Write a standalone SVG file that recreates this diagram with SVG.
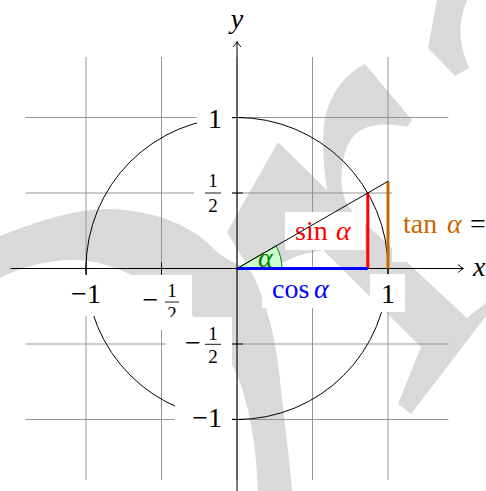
<svg xmlns="http://www.w3.org/2000/svg" width="486" height="491" viewBox="0 0 486 491">
<style>
.wm{fill:#d9d9d9}
.grid{stroke:#8a8a8a;stroke-width:0.9;fill:none}
.ax{stroke:#000;stroke-width:1;fill:none}
.box{fill:#fff}
.t{font-family:"Liberation Serif","DejaVu Serif",serif;font-size:28px}
.f{font-family:"Liberation Serif","DejaVu Serif",serif;font-size:19px;text-anchor:middle}
.it{font-style:italic}
.bar{stroke:#000;stroke-width:0.9}
</style>
<rect width="486" height="491" fill="#fff"/>
<g id="watermark">
<path class="wm" d="M0,236 C40,220 80,208 110,209 C160,211 195,228 215,250 C228,262 245,266 252,273 C265,300 275,330 280,380 C284,420 290,460 292,491 L258,491 C256,440 248,400 235,370 C215,335 190,310 160,290 C130,272 105,262 80,260 C50,259 20,267 0,278 Z"/>
<path class="wm" d="M278,142 L327,190 C324,170 322,145 324,125 C327,100 342,75 365,64 L412,120 L407,127 C395,124 372,122 358,132 C345,142 340,165 342,188 C344,205 355,215 370,228 L467,318 L486,303 L486,316 L411,414 L398,404 L421,347 L323,250 L300,255 L270,268 L245,262 L227,232 Z"/>
<path class="wm" d="M437,0 L428,48 L455,76 L469,68 C462,50 455,30 467,0 Z"/>
</g>
<g id="grid">
<path class="grid" d="M86,57V480 M161.5,57V480 M237,57V480 M312.5,57V480 M388,57V480 M25.6,117.5H448.4 M25.6,193H448.4 M25.6,268.5H448.4 M25.6,344H448.4 M25.6,419.5H448.4"/>
</g>
<g id="unit-circle">
<circle cx="237" cy="268.5" r="151" fill="none" stroke="#000" stroke-width="1"/>
</g>
<g id="angle-wedge">
<path d="M237,268.5 L282,268.5 A45,45 0 0 0 276,246 Z" fill="#ccffcc" stroke="#008000" stroke-width="1"/>
</g>
<g id="axes">
<path class="ax" d="M10.5,268.5 H463 M237,495 V42"/>
<path class="ax" d="M458,264.5 Q461,267.5 463.5,268.5 Q461,269.5 458,272.5 M233,47 Q236,44 237,41.5 Q238,44 241,47"/>
<path class="ax" d="M86,262.5V274.5 M161.5,262.5V274.5 M388,262.5V274.5 M231,117.5H243 M231,193H243 M231,344H243 M231,419.5H243"/>
<text class="t it" x="237" y="28" text-anchor="middle">y</text>
<text class="t it" x="473" y="276">x</text>
</g>
<g id="xtick-m1">
<rect class="box" x="58" y="275" width="56" height="41"/>
<text class="t" x="86" y="303" text-anchor="middle">−1</text>
</g>
<g id="xtick-mhalf">
<rect class="box" x="132" y="275" width="60" height="55"/>
<text class="t" x="150.5" y="309" text-anchor="middle">−</text>
<text class="f" x="172" y="297">1</text>
<line class="bar" x1="165" y1="302" x2="179" y2="302"/>
<text class="f" x="172" y="320">2</text>
</g>
<g id="xtick-1">
<rect class="box" x="370" y="274" width="35" height="38"/>
<text class="t" x="388" y="303" text-anchor="middle">1</text>
</g>
<g id="ytick-mhalf">
<rect class="box" x="166" y="317" width="66" height="55"/>
<text class="t" x="193" y="352" text-anchor="middle">−</text>
<text class="f" x="213" y="340">1</text>
<line class="bar" x1="205" y1="344.3" x2="221" y2="344.3"/>
<text class="f" x="213" y="363">2</text>
</g>
<g id="ytick-m1">
<rect class="box" x="175" y="398" width="57" height="42"/>
<text class="t" x="222" y="427" text-anchor="end">−1</text>
</g>
<g id="ytick-half">
<rect class="box" x="194" y="170" width="38" height="48"/>
<text class="f" x="213" y="187">1</text>
<line class="bar" x1="205" y1="193" x2="221" y2="193"/>
<text class="f" x="213" y="212">2</text>
</g>
<g id="ytick-1">
<rect class="box" x="197" y="100" width="35" height="35"/>
<text class="t" x="222" y="128" text-anchor="end">1</text>
</g>
<g id="connectors">
<path d="M367.8,193 V268.5" stroke="#ff0000" stroke-width="3"/>
<path d="M237,268.5 H367.8" stroke="#0000ff" stroke-width="3"/>
<path d="M388,268.5 V181.3" stroke="#cc6600" stroke-width="3"/>
</g>
<g id="sin-label">
<rect class="box" x="285" y="212" width="80" height="38"/>
<text class="t" x="295" y="240" fill="#ff0000">sin</text>
<text class="t it" x="336" y="240" fill="#ff0000">α</text>
</g>
<g id="cos-label">
<rect class="box" x="262" y="270" width="82" height="38"/>
<text class="t" x="272" y="298" fill="#0000ff">cos</text>
<text class="t it" x="314" y="298" fill="#0000ff">α</text>
</g>
<g id="tan-label">
<rect class="box" x="392" y="185" width="94" height="77"/>
<text class="t" x="403" y="233" fill="#cc6600">tan</text>
<text class="t it" x="447" y="233" fill="#cc6600">α</text>
<text class="t" x="470" y="233" fill="#000">=</text>
</g>
<g id="radius">
<path d="M237,268.5 L388,181.3" stroke="#000" stroke-width="1" fill="none"/>
</g>
<g id="alpha-label">
<text class="t it" x="258" y="267" fill="#008000">α</text>
</g>
</svg>
